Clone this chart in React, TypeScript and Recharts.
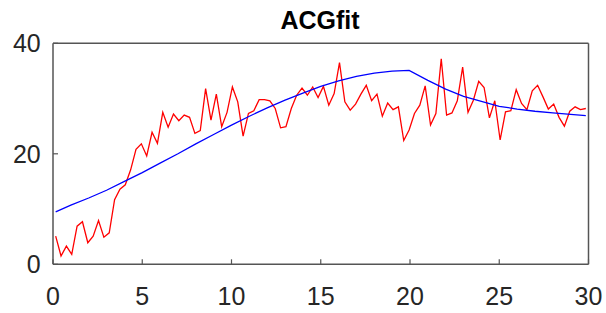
import { LineChart, Line, XAxis, YAxis } from 'recharts';

// sample positions (s) of the measured curve
const xs = [
  0.15, 0.45, 0.75, 1.05, 1.35, 1.65, 1.95, 2.25, 2.55, 2.85,
  3.15, 3.45, 3.75, 4.05, 4.35, 4.65, 4.95, 5.25, 5.55, 5.85,
  6.15, 6.45, 6.75, 7.05, 7.35, 7.65, 7.95, 8.25, 8.55, 8.85,
  9.15, 9.45, 9.75, 10.05, 10.35, 10.65, 10.95, 11.25, 11.55, 11.85,
  12.15, 12.45, 12.75, 13.05, 13.35, 13.65, 13.95, 14.25, 14.55, 14.85,
  15.15, 15.45, 15.75, 16.05, 16.35, 16.65, 16.95, 17.25, 17.55, 17.85,
  18.15, 18.45, 18.75, 19.05, 19.35, 19.65, 19.95, 20.25, 20.55, 20.85,
  21.15, 21.45, 21.75, 22.05, 22.35, 22.65, 22.95, 23.25, 23.55, 23.85,
  24.15, 24.45, 24.75, 25.05, 25.35, 25.65, 25.95, 26.25, 26.55, 26.85,
  27.15, 27.45, 27.75, 28.05, 28.35, 28.65, 28.95, 29.25, 29.55, 29.85,
];

// measured ACG (red)
const acg = [
  5.1, 1.5, 3.3, 1.8, 6.9, 7.7, 3.9, 5.1, 7.9, 4.9,
  5.7, 11.7, 13.6, 14.4, 17.1, 20.8, 21.8, 19.6, 23.9, 21.9,
  27.5, 24.8, 27.2, 26.0, 27.0, 26.6, 23.7, 24.2, 31.8, 26.1,
  30.8, 24.9, 27.5, 32.1, 29.4, 23.2, 27.3, 27.8, 29.8, 29.8,
  29.6, 28.2, 24.7, 24.9, 28.2, 30.6, 31.9, 30.6, 32.1, 30.2,
  32.2, 28.8, 30.9, 36.5, 29.4, 27.9, 29.0, 30.8, 32.4, 29.6,
  30.8, 26.8, 29.2, 28.0, 28.5, 22.4, 24.3, 27.3, 28.8, 32.3,
  25.2, 27.3, 37.2, 27.0, 27.4, 29.6, 35.7, 27.5, 29.7, 33.1,
  32.0, 26.5, 29.6, 22.5, 27.6, 27.8, 31.6, 29.1, 28.0, 31.4,
  32.4, 30.3, 28.1, 29.0, 26.6, 25.0, 27.7, 28.5, 28.0, 28.2,
];

// fitted curve (blue)
const fitX = [
  0.15, 1, 2, 3, 4, 5, 6, 7, 8, 9, 10, 11, 12, 13, 14, 15, 16, 17, 18, 19,
  19.95, 21, 22, 23, 24, 25, 26, 27, 28, 29, 29.85,
];
const fitY = [
  9.5, 10.7, 12.0, 13.4, 15.0, 16.6, 18.3, 20.0, 21.8, 23.5, 25.2, 26.8, 28.3, 29.7, 31.0, 32.2, 33.2, 34.0, 34.6, 34.95,
  35.1, 33.3, 31.7, 30.4, 29.5, 28.6, 28.1, 27.7, 27.4, 27.15, 26.9,
];

const xTicks = [0, 5, 10, 15, 20, 25, 30];
const yTicks = [0, 20, 40];

const acgData = xs.map((x, i) => ({ x, y: acg[i] }));
const fitData = fitX.map((x, i) => ({ x, y: fitY[i] }));

const FONT = '"Liberation Sans", Arial, Helvetica, sans-serif';
const AXIS = '#555555';
const tickStyle = { fontSize: 25, fill: '#262626', fontFamily: FONT };

export default function App() {
  return (
    <div style={{ position: 'absolute', left: 0, top: 0, width: 606, height: 313, background: '#fff' }}>
      <div
        style={{
          position: 'absolute', left: 220, top: 8, width: 200, textAlign: 'center',
          fontFamily: FONT, fontWeight: 'bold', fontSize: 25, lineHeight: '25px', color: '#000',
        }}
      >
        ACGfit
      </div>
      <LineChart width={606} height={313} margin={{ top: 42.3, right: 16.5, bottom: 47.7, left: 52 }}>
        <XAxis
          xAxisId={0} dataKey="x" type="number" domain={[0, 30]} ticks={xTicks} allowDataOverflow
          height={1} tickSize={-5} tickMargin={27.5} tick={tickStyle}
          axisLine={{ stroke: AXIS, strokeWidth: 1.5 }} tickLine={{ stroke: AXIS, strokeWidth: 1.2 }}
        />
        <XAxis
          xAxisId="top" orientation="top" dataKey="x" type="number" domain={[0, 30]} ticks={xTicks}
          height={1} tickSize={-5} tickFormatter={() => ''}
          axisLine={{ stroke: AXIS, strokeWidth: 1.5 }} tickLine={{ stroke: AXIS, strokeWidth: 1.2 }}
        />
        <YAxis
          yAxisId={0} type="number" domain={[0, 40]} ticks={yTicks} allowDataOverflow
          width={1} tickSize={-5} tickMargin={17.3} tick={tickStyle}
          axisLine={{ stroke: AXIS, strokeWidth: 1.5 }} tickLine={{ stroke: AXIS, strokeWidth: 1.2 }}
        />
        <YAxis
          yAxisId="right" orientation="right" type="number" domain={[0, 40]} ticks={yTicks}
          width={1} tickSize={-5} tickFormatter={() => ''}
          axisLine={{ stroke: AXIS, strokeWidth: 1.5 }} tickLine={{ stroke: AXIS, strokeWidth: 1.2 }}
        />
        <Line
          data={acgData} dataKey="y" xAxisId={0} yAxisId={0} type="linear"
          stroke="#ff0000" strokeWidth={1.3} dot={false} isAnimationActive={false}
        />
        <Line
          data={fitData} dataKey="y" xAxisId={0} yAxisId={0} type="linear"
          stroke="#0000ff" strokeWidth={1.3} dot={false} isAnimationActive={false}
        />
      </LineChart>
    </div>
  );
}
